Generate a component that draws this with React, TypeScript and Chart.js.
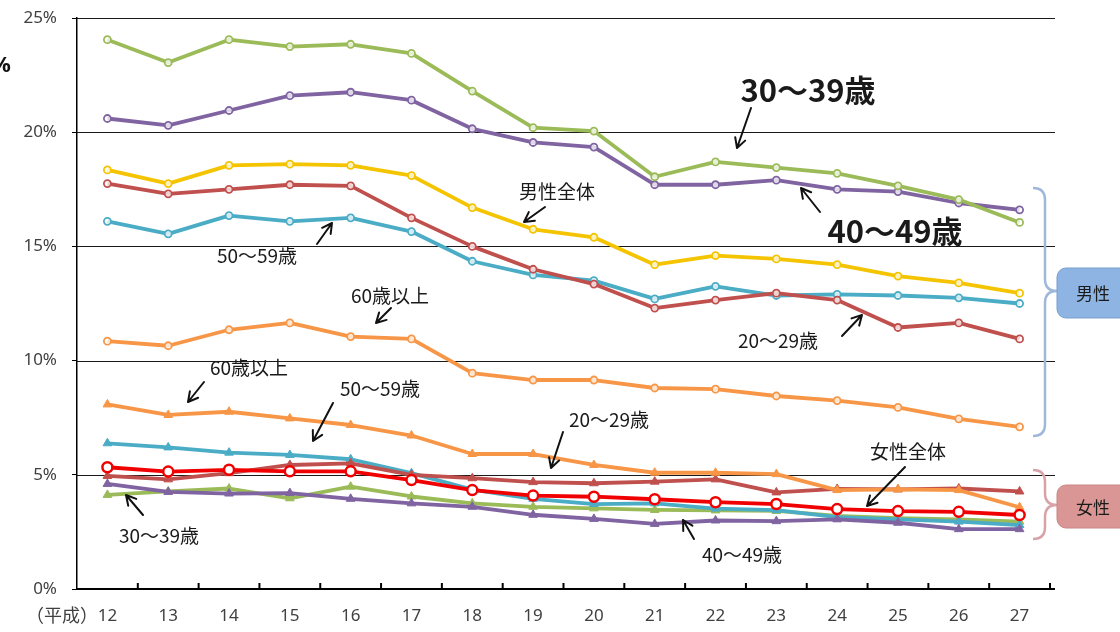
import React, { useEffect, useRef } from 'react';
import { Chart, registerables } from 'chart.js';
Chart.register(...registerables);

const years = ['12', '13', '14', '15', '16', '17', '18', '19', '20', '21', '22', '23', '24', '25', '26', '27'];

// 男性
const maleAll = [18.35, 17.75, 18.55, 18.6, 18.55, 18.1, 16.7, 15.75, 15.4, 14.2, 14.6, 14.45, 14.2, 13.7, 13.4, 12.95];
const male20 = [17.75, 17.3, 17.5, 17.7, 17.65, 16.25, 15.0, 14.0, 13.35, 12.3, 12.65, 12.95, 12.65, 11.45, 11.65, 10.95];
const male30 = [24.05, 23.05, 24.05, 23.75, 23.85, 23.45, 21.8, 20.2, 20.05, 18.05, 18.7, 18.45, 18.2, 17.65, 17.05, 16.05];
const male40 = [20.6, 20.3, 20.95, 21.6, 21.75, 21.4, 20.15, 19.55, 19.35, 17.7, 17.7, 17.9, 17.5, 17.4, 16.9, 16.6];
const male50 = [16.1, 15.55, 16.35, 16.1, 16.25, 15.65, 14.35, 13.75, 13.5, 12.7, 13.25, 12.85, 12.9, 12.85, 12.75, 12.5];
const male60 = [10.85, 10.65, 11.35, 11.65, 11.05, 10.95, 9.45, 9.15, 9.15, 8.8, 8.75, 8.45, 8.25, 7.95, 7.45, 7.1];

// 女性
const femaleAll = [5.33, 5.14, 5.22, 5.15, 5.15, 4.77, 4.33, 4.09, 4.04, 3.93, 3.8, 3.72, 3.5, 3.41, 3.38, 3.24];
const female20 = [4.95, 4.8, 5.07, 5.43, 5.5, 5.0, 4.85, 4.68, 4.63, 4.7, 4.8, 4.23, 4.38, 4.36, 4.4, 4.27];
const female30 = [4.12, 4.27, 4.4, 3.97, 4.48, 4.05, 3.75, 3.6, 3.53, 3.46, 3.44, 3.42, 3.2, 3.1, 3.05, 2.95];
const female40 = [4.6, 4.25, 4.18, 4.2, 3.95, 3.75, 3.6, 3.25, 3.07, 2.85, 3.0, 2.97, 3.05, 2.9, 2.62, 2.62];
const female50 = [6.38, 6.2, 5.97, 5.87, 5.68, 5.07, 4.35, 3.95, 3.72, 3.75, 3.52, 3.45, 3.15, 3.05, 2.95, 2.8];
const female60 = [8.08, 7.62, 7.76, 7.47, 7.18, 6.72, 5.91, 5.91, 5.43, 5.09, 5.09, 5.03, 4.33, 4.36, 4.33, 3.58];

const yTicks = [0, 5, 10, 15, 20, 25];

const C_GREEN = '#9BBB59';
const C_PURPLE = '#8064A2';
const C_YELLOW = '#F5C400';
const C_DRED = '#C0504D';
const C_TEAL = '#4BACC6';
const C_ORANGE = '#F79646';
const C_RED = '#F00000';

const JP = '"Noto Sans CJK JP", "Noto Sans", sans-serif';
const LAT = '"Noto Sans", "DejaVu Sans", sans-serif';

type Note = { text: string; x: number; y: number; big?: boolean; ax1: number; ay1: number; ax2: number; ay2: number };
const notes: Note[] = [
  { text: '30〜39歳', x: 808, y: 90, big: true, ax1: 751, ay1: 108, ax2: 737, ay2: 148 },
  { text: '40〜49歳', x: 895, y: 231, big: true, ax1: 820, ay1: 212, ax2: 801, ay2: 188 },
  { text: '男性全体', x: 557, y: 192, ax1: 545, ay1: 207, ax2: 524, ay2: 222 },
  { text: '50〜59歳', x: 257, y: 256, ax1: 317, ay1: 244, ax2: 332, ay2: 223 },
  { text: '60歳以上', x: 390, y: 296, ax1: 391, ay1: 308, ax2: 376, ay2: 323 },
  { text: '20〜29歳', x: 778, y: 341, ax1: 842, ay1: 336, ax2: 862, ay2: 315 },
  { text: '60歳以上', x: 249, y: 368, ax1: 204, ay1: 382, ax2: 188, ay2: 402 },
  { text: '50〜59歳', x: 380, y: 389, ax1: 333, ay1: 403, ax2: 313, ay2: 441 },
  { text: '20〜29歳', x: 609, y: 420, ax1: 563, ay1: 432, ax2: 551, ay2: 468 },
  { text: '女性全体', x: 908, y: 452, ax1: 905, ay1: 467, ax2: 867, ay2: 506 },
  { text: '30〜39歳', x: 159, y: 536, ax1: 143, ay1: 515, ax2: 126, ay2: 495 },
  { text: '40〜49歳', x: 742, y: 555, ax1: 694, ay1: 539, ax2: 683, ay2: 520 },
];

function arrow(ctx: CanvasRenderingContext2D, x1: number, y1: number, x2: number, y2: number) {
  ctx.save();
  ctx.strokeStyle = '#111';
  ctx.lineWidth = 2;
  ctx.lineCap = 'round';
  ctx.beginPath();
  ctx.moveTo(x1, y1);
  ctx.lineTo(x2, y2);
  const a = Math.atan2(y2 - y1, x2 - x1);
  const L = 11;
  ctx.moveTo(x2, y2);
  ctx.lineTo(x2 - L * Math.cos(a - 0.5), y2 - L * Math.sin(a - 0.5));
  ctx.moveTo(x2, y2);
  ctx.lineTo(x2 - L * Math.cos(a + 0.5), y2 - L * Math.sin(a + 0.5));
  ctx.stroke();
  ctx.restore();
}

function brace(ctx: CanvasRenderingContext2D, y0: number, ym: number, y1: number, color: string) {
  const xl = 1045, xc = 1033, xt = 1057, r = 12;
  ctx.save();
  ctx.strokeStyle = color;
  ctx.lineWidth = 2.5;
  ctx.beginPath();
  ctx.moveTo(xc, y0);
  ctx.quadraticCurveTo(xl, y0, xl, y0 + r);
  ctx.lineTo(xl, ym - r);
  ctx.quadraticCurveTo(xl, ym, xt, ym);
  ctx.quadraticCurveTo(xl, ym, xl, ym + r);
  ctx.lineTo(xl, y1 - r);
  ctx.quadraticCurveTo(xl, y1, xc, y1);
  ctx.stroke();
  ctx.restore();
}

function box(ctx: CanvasRenderingContext2D, y: number, h: number, fill: string, stroke: string, text: string) {
  ctx.save();
  ctx.fillStyle = fill;
  ctx.strokeStyle = stroke;
  ctx.lineWidth = 1;
  ctx.beginPath();
  (ctx as any).roundRect(1057, y, 80, h, 9);
  ctx.fill();
  ctx.stroke();
  ctx.fillStyle = '#1a1a1a';
  ctx.font = `17px ${JP}`;
  ctx.textAlign = 'left';
  ctx.textBaseline = 'middle';
  ctx.fillText(text, 1076, y + h / 2 + 1);
  ctx.restore();
}

export default function App() {
  const ref = useRef<HTMLCanvasElement>(null);
  useEffect(() => {
    if (!ref.current) return;
    const gridPlugin = {
      id: 'customGrid',
      beforeDatasetsDraw(chart: any) {
        const ctx = chart.ctx as CanvasRenderingContext2D;
        const y = chart.scales.y;
        const x = chart.scales.x;
        const area = chart.chartArea;
        ctx.save();
        ctx.strokeStyle = '#1a1a1a';
        ctx.lineWidth = 1;
        for (const v of yTicks) {
          if (v === 0) continue;
          const py = Math.round(y.getPixelForValue(v)) + 0.5;
          ctx.beginPath();
          ctx.moveTo(area.left, py);
          ctx.lineTo(area.right + 5, py);
          ctx.stroke();
        }
        ctx.strokeStyle = '#000';
        ctx.lineWidth = 2;
        ctx.beginPath();
        ctx.moveTo(area.left, area.bottom);
        ctx.lineTo(area.right + 5, area.bottom);
        ctx.stroke();
        const n = years.length;
        const step = (area.right - area.left) / n;
        for (let i = 1; i <= n; i++) {
          const px = x.left + i * step;
          ctx.beginPath();
          ctx.moveTo(px, area.bottom);
          ctx.lineTo(px, area.bottom - 6);
          ctx.stroke();
        }
        ctx.restore();
      },
      afterDraw(chart: any) {
        const ctx = chart.ctx as CanvasRenderingContext2D;
        ctx.save();
        ctx.fillStyle = '#1a1a1a';
        ctx.textAlign = 'center';
        ctx.textBaseline = 'middle';
        for (const n of notes) {
          ctx.font = n.big ? `bold 31px ${JP}` : `19px ${JP}`;
          ctx.fillText(n.text, n.x, n.y);
          arrow(ctx, n.ax1, n.ay1, n.ax2, n.ay2);
        }
        ctx.fillStyle = '#404040';
        ctx.font = `18px ${JP}`;
        ctx.textAlign = 'left';
        ctx.fillText('（平成）', 26, 615);
        ctx.fillStyle = '#111';
        ctx.font = `bold 22px ${LAT}`;
        ctx.fillText('%', -9, 66);
        ctx.restore();
        brace(ctx, 188, 291, 436, '#9DB8D9');
        brace(ctx, 470, 505, 539, '#D8A2A6');
        box(ctx, 268, 50, '#8DB4E2', '#7A9FCC', '男性');
        box(ctx, 485, 43, '#D99694', '#C98684', '女性');
      },
    };

    const maleDs = (label: string, data: number[], color: string, order: number) => ({
      label, data, borderColor: color, backgroundColor: color,
      borderWidth: 3.8, pointStyle: 'circle', pointRadius: 3.5,
      pointBackgroundColor: 'rgba(255,255,255,0.75)', pointBorderColor: color, pointBorderWidth: 1.8,
      borderJoinStyle: 'round', tension: 0, order,
    });
    const femaleDs = (label: string, data: number[], color: string, order: number) => ({
      label, data, borderColor: color, backgroundColor: color,
      borderWidth: 3.8, pointStyle: 'triangle', pointRadius: 5,
      pointBackgroundColor: color, pointBorderColor: color, pointBorderWidth: 1,
      borderJoinStyle: 'round', tension: 0, order,
    });

    const chart = new Chart(ref.current, {
      type: 'line',
      data: {
        labels: years,
        datasets: [
          {
            label: '女性全体', data: femaleAll, borderColor: C_RED, backgroundColor: C_RED,
            borderWidth: 3.8, pointStyle: 'circle', pointRadius: 5,
            pointBackgroundColor: '#ffffff', pointBorderColor: C_RED, pointBorderWidth: 2.5,
            borderJoinStyle: 'round', tension: 0, order: 0,
          } as any,
          femaleDs('女性20〜29歳', female20, C_DRED, 3),
          femaleDs('女性30〜39歳', female30, C_GREEN, 5),
          femaleDs('女性40〜49歳', female40, C_PURPLE, 2),
          femaleDs('女性50〜59歳', female50, C_TEAL, 4),
          femaleDs('女性60歳以上', female60, C_ORANGE, 1),
          maleDs('男性全体', maleAll, C_YELLOW, 6),
          maleDs('男性20〜29歳', male20, C_DRED, 8),
          maleDs('男性30〜39歳', male30, C_GREEN, 7),
          maleDs('男性40〜49歳', male40, C_PURPLE, 9),
          maleDs('男性50〜59歳', male50, C_TEAL, 10),
          maleDs('男性60歳以上', male60, C_ORANGE, 11),
        ] as any,
      },
      options: {
        animation: false,
        responsive: false,
        maintainAspectRatio: false,
        layout: { padding: { top: 18, right: 70, left: 0, bottom: 0 } },
        plugins: { legend: { display: false }, tooltip: { enabled: false } },
        scales: {
          x: {
            offset: true,
            grid: { display: false, drawTicks: false },
            border: { display: false },
            ticks: { color: '#404040', font: { size: 17, family: LAT }, padding: 17, maxRotation: 0 },
            afterFit(s: any) { s.height = 43; s.paddingLeft = 0; s.paddingRight = 0; },
          },
          y: {
            min: 0, max: 25,
            afterBuildTicks(s: any) { s.ticks = yTicks.map((v) => ({ value: v })); },
            ticks: {
              color: '#404040', font: { size: 17, family: LAT }, padding: 15,
              callback: (v: any) => v + '%',
            },
            grid: { drawOnChartArea: false, drawTicks: true, tickLength: 5, color: '#000', lineWidth: 1 },
            border: { color: '#000', width: 1.5 },
            afterFit(s: any) { s.width = 77; s.paddingTop = 0; s.paddingBottom = 0; },
          },
        },
      } as any,
      plugins: [gridPlugin],
    });
    return () => chart.destroy();
  }, []);

  return (
    <div style={{ position: 'absolute', left: 0, top: 0, width: 1120, height: 632, background: '#fff' }}>
      <canvas ref={ref} width={1120} height={632} style={{ width: 1120, height: 632, display: 'block' }} />
    </div>
  );
}
